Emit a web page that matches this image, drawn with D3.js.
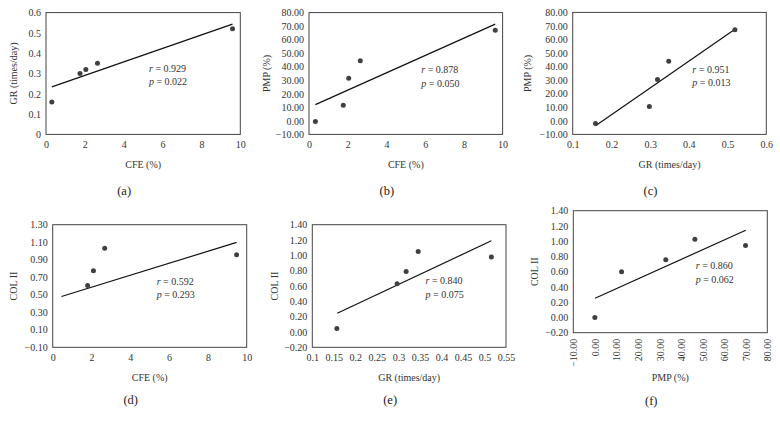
<!DOCTYPE html>
<html>
<head>
<meta charset="utf-8">
<script src="https://cdn.jsdelivr.net/npm/d3@7"></script>
<style>
  body { margin: 0; background: #fff; }
  svg text { font-family: "Liberation Serif", "DejaVu Serif", serif !important; }
</style>
</head>
<body>
<svg id="chart" width="780" height="427"></svg>
<script>
'use strict';

// (a) GR vs CFE
const aCFE = [0.3, 1.75, 2.05, 2.65, 9.6];
const aGR = [0.16, 0.30, 0.32, 0.35, 0.52];
const aFitX = [0.3, 9.6];
const aFitY = [0.234, 0.543];
const aTicksX = [0, 2, 4, 6, 8, 10];
const aTicksY = [0, 0.1, 0.2, 0.3, 0.4, 0.5, 0.6];

// (b) PMP vs CFE
const bCFE = [0.33, 1.77, 2.05, 2.65, 9.62];
const bPMP = [-0.5, 11.5, 31.5, 44.5, 67];
const bFitX = [0.33, 9.62];
const bFitY = [12, 71.5];
const bTicksX = [0, 2, 4, 6, 8, 10];
const bTicksY = [-10, 0, 10, 20, 30, 40, 50, 60, 70, 80];

// (c) PMP vs GR
const cGR = [0.159, 0.298, 0.319, 0.348, 0.519];
const cPMP = [-2, 10.5, 30.5, 44, 67.2];
const cFitX = [0.16, 0.519];
const cFitY = [-3.5, 67.6];
const cTicksX = [0.1, 0.2, 0.3, 0.4, 0.5, 0.6];
const cTicksY = [-10, 0, 10, 20, 30, 40, 50, 60, 70, 80];

// (d) COL II vs CFE
const dCFE = [1.8, 2.1, 2.68, 9.48];
const dCOL = [0.606, 0.774, 1.03, 0.957];
const dFitX = [0.45, 9.48];
const dFitY = [0.48, 1.098];
const dTicksX = [0, 2, 4, 6, 8, 10];
const dTicksY = [-0.1, 0.1, 0.3, 0.5, 0.7, 0.9, 1.1, 1.3];

// (e) COL II vs GR
const eGR = [0.157, 0.297, 0.318, 0.346, 0.516];
const eCOL = [0.044, 0.628, 0.79, 1.05, 0.977];
const eFitX = [0.158, 0.516];
const eFitY = [0.245, 1.19];
const eTicksX = [0.1, 0.15, 0.2, 0.25, 0.3, 0.35, 0.4, 0.45, 0.5, 0.55];
const eTicksY = [-0.2, 0, 0.2, 0.4, 0.6, 0.8, 1.0, 1.2, 1.4];

// (f) COL II vs PMP
const fPMP = [0, 12.4, 32.9, 46.4, 69.9];
const fCOL = [0, 0.6, 0.757, 1.026, 0.943];
const fFitX = [0.1, 70];
const fFitY = [0.252, 1.143];
const fTicksX = [-10, 0, 10, 20, 30, 40, 50, 60, 70, 80];
const fTicksY = [-0.2, 0, 0.2, 0.4, 0.6, 0.8, 1.0, 1.2, 1.4];

const rValues = ['0.929', '0.878', '0.951', '0.592', '0.840', '0.860'];
const pValues = ['0.022', '0.050', '0.013', '0.293', '0.075', '0.062'];
const panelLabels = ['(a)', '(b)', '(c)', '(d)', '(e)', '(f)'];

const fmtInt = d3.format('~g');
const fmt2 = d3.format('.2f');

const panels = [
  {xs: aCFE, ys: aGR, fitX: aFitX, fitY: aFitY, ticksX: aTicksX, ticksY: aTicksY,
    fx: fmtInt, fy: fmtInt, xTitle: 'CFE (%)', yTitle: 'GR (times/day)',
    box: [46, 240.3, 12.6, 134.4], yTitleOff: 33, xTitleY: 164, labelY: 191, stat: [5.3, 0.327]},
  {xs: bCFE, ys: bPMP, fitX: bFitX, fitY: bFitY, ticksX: bTicksX, ticksY: bTicksY,
    fx: fmtInt, fy: fmt2, xTitle: 'CFE (%)', yTitle: 'PMP (%)',
    box: [309, 502.6, 12.6, 134.4], yTitleOff: 43, xTitleY: 164, labelY: 191, stat: [5.8, 37.6]},
  {xs: cGR, ys: cPMP, fitX: cFitX, fitY: cFitY, ticksX: cTicksX, ticksY: cTicksY,
    fx: fmtInt, fy: fmt2, xTitle: 'GR (times/day)', yTitle: 'PMP (%)',
    box: [572.7, 766.3, 12.4, 134.4], yTitleOff: 45, xTitleY: 164, labelY: 191, stat: [0.409, 38.1]},
  {xs: dCFE, ys: dCOL, fitX: dFitX, fitY: dFitY, ticksX: dTicksX, ticksY: dTicksY,
    fx: fmtInt, fy: fmt2, xTitle: 'CFE (%)', yTitle: 'COL II',
    box: [52.7, 246.7, 224.7, 347.3], yTitleOff: 39, xTitleY: 377, labelY: 400, stat: [5.36, 0.657]},
  {xs: eGR, ys: eCOL, fitX: eFitX, fitY: eFitY, ticksX: eTicksX, ticksY: eTicksY,
    fx: fmtInt, fy: fmt2, xTitle: 'GR (times/day)', yTitle: 'COL II',
    box: [312.3, 506, 224.7, 347.3], yTitleOff: 38, xTitleY: 377, labelY: 400, stat: [0.363, 0.669]},
  {xs: fPMP, ys: fCOL, fitX: fFitX, fitY: fFitY, ticksX: fTicksX, ticksY: fTicksY,
    fx: fmt2, fy: fmt2, xTitle: 'PMP (%)', yTitle: 'COL II',
    box: [573.3, 767.3, 210.7, 332.7], yTitleOff: 39, xTitleY: 377, labelY: 401, stat: [46.8, 0.675],
    rotateX: true}
];

const svg = d3.select('#chart');
const ink = '#333';

panels.forEach((p, i) => {
  const [x0, x1, y0, y1] = p.box;
  const x = d3.scaleLinear().domain(d3.extent(p.ticksX)).range([x0, x1]);
  const y = d3.scaleLinear().domain(d3.extent(p.ticksY)).range([y1, y0]);
  const g = svg.append('g');

  // plot area border
  g.append('rect')
      .attr('x', x0).attr('y', y0)
      .attr('width', x1 - x0).attr('height', y1 - y0)
      .attr('fill', 'none')
      .attr('stroke', '#444')
      .attr('stroke-width', 1);

  const xAxis = g.append('g')
      .attr('transform', `translate(0,${y1})`)
      .call(d3.axisBottom(x).tickValues(p.ticksX).tickFormat(p.fx).tickSize(0).tickPadding(7));
  const yAxis = g.append('g')
      .attr('transform', `translate(${x0},0)`)
      .call(d3.axisLeft(y).tickValues(p.ticksY).tickFormat(p.fy).tickSize(0).tickPadding(5));

  [xAxis, yAxis].forEach((a) => {
    a.attr('font-family', null);
    a.select('.domain').remove();
    a.selectAll('text')
        .attr('fill', ink)
        .style('font-size', '10px');
  });

  if (p.rotateX) {
    xAxis.selectAll('text')
        .attr('transform', 'rotate(-90)')
        .attr('text-anchor', 'end')
        .attr('x', -6)
        .attr('y', 0)
        .attr('dy', '0.35em');
  }

  // trend line
  const fit = p.fitX.map((v, k) => [v, p.fitY[k]]);
  g.append('path')
      .attr('d', d3.line().x((d) => x(d[0])).y((d) => y(d[1]))(fit))
      .attr('fill', 'none')
      .attr('stroke', '#111')
      .attr('stroke-width', 1.2);

  // points
  g.selectAll('circle')
      .data(p.xs.map((v, k) => [v, p.ys[k]]))
      .enter()
      .append('circle')
      .attr('cx', (d) => x(d[0]))
      .attr('cy', (d) => y(d[1]))
      .attr('r', 2.5)
      .attr('fill', '#404040');

  // r / p annotation
  const sx = x(p.stat[0]);
  const sy = y(p.stat[1]);
  [['r', rValues[i]], ['p', pValues[i]]].forEach(([k, v], j) => {
    const t = g.append('text')
        .attr('x', sx)
        .attr('y', sy + j * 13.5)
        .attr('dy', '0.35em')
        .attr('fill', ink)
        .style('font-size', '10px');
    t.append('tspan').style('font-style', 'italic').text(k);
    t.append('tspan').text(' = ' + v);
  });

  // axis titles
  g.append('text')
      .attr('x', (x0 + x1) / 2)
      .attr('y', p.xTitleY)
      .attr('dy', '0.35em')
      .attr('text-anchor', 'middle')
      .attr('fill', ink)
      .style('font-size', '10px')
      .text(p.xTitle);

  g.append('text')
      .attr('transform', `translate(${x0 - p.yTitleOff},${(y0 + y1) / 2}) rotate(-90)`)
      .attr('dy', '0.35em')
      .attr('text-anchor', 'middle')
      .attr('fill', ink)
      .style('font-size', '10px')
      .text(p.yTitle);

  // panel label
  g.append('text')
      .attr('x', (x0 + x1) / 2 - 19)
      .attr('y', p.labelY)
      .attr('dy', '0.35em')
      .attr('text-anchor', 'middle')
      .attr('fill', '#222')
      .style('font-size', '12.5px')
      .text(panelLabels[i]);
});
</script>
</body>
</html>
